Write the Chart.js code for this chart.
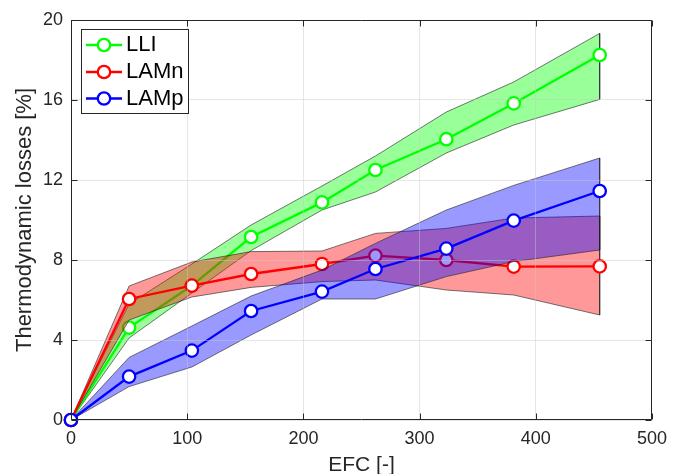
<!DOCTYPE html>
<html>
<head>
<meta charset="utf-8">
<script src="https://cdn.jsdelivr.net/npm/chart.js@4.4.1/dist/chart.umd.min.js"></script>
<style>
  html, body { margin: 0; padding: 0; background: #ffffff; }
  #wrap { width: 675px; height: 474px; }
</style>
</head>
<body>
<div id="wrap"><canvas id="c" width="675" height="474"></canvas></div>
<script>
// ---- data ----
const efc = [0, 50, 104, 155, 216, 262, 323, 381, 455];

const lli      = [0, 4.62, 6.72, 9.15, 10.88, 12.5, 14.04, 15.83, 18.25];
const lliUpper = [0, 5.8, 7.8, 9.75, 11.7, 13.2, 15.4, 16.9, 19.33];
const lliLower = [0, 4.1, 6.35, 8.47, 10.5, 11.4, 13.35, 14.75, 16.03];

const lamn      = [0, 6.05, 6.72, 7.3, 7.8, 8.22, 8.0, 7.67, 7.68];
const lamnUpper = [0, 6.7, 7.9, 8.42, 8.45, 9.33, 9.58, 10.1, 10.2];
const lamnLower = [0, 5.0, 6.15, 6.63, 6.92, 7.0, 6.5, 6.25, 5.25];

const lamp      = [0, 2.17, 3.47, 5.45, 6.42, 7.55, 8.57, 9.97, 11.45];
const lampUpper = [0, 3.13, 4.7, 6.2, 7.5, 8.83, 10.5, 11.73, 13.1];
const lampLower = [0, 1.67, 2.65, 4.25, 6.05, 6.05, 7.17, 7.92, 8.5];

const seriesNames = ['LLI', 'LAMn', 'LAMp'];
const xTicks = [0, 100, 200, 300, 400, 500];
const yTicks = [0, 4, 8, 12, 16, 20];

// ---- styling ----
const FONT = "'Liberation Sans', Arial, Helvetica, sans-serif";
const AXIS = '#262626';
const EDGE = 'rgba(30,30,30,0.75)';
const MR = 6.2;   // marker radius
const LW = 2.3;   // line width

function pts(xs, ys) { return xs.map((x, i) => ({ x: x, y: ys[i] })); }

function band(upper, lower, fillColor, order) {
  const n = efc.length - 1;
  const up = pts(efc, upper).concat([{ x: efc[n], y: lower[n] }]);
  return [
    { data: up, showLine: true, fill: '+1', backgroundColor: fillColor,
      borderColor: EDGE, borderWidth: 0.8, pointRadius: 0, order: order, isBand: true },
    { data: pts(efc, lower), showLine: true, fill: false,
      borderColor: EDGE, borderWidth: 0.8, pointRadius: 0, order: order - 1, isBand: true }
  ];
}

function series(label, ys, color, order) {
  return { label: label, data: pts(efc, ys), showLine: true, fill: false,
    borderColor: color, borderWidth: LW, pointRadius: MR, pointBorderWidth: LW,
    pointBackgroundColor: '#ffffff', pointBorderColor: color, order: order,
    clip: false, isSeries: true };
}

const datasets = []
  .concat(band(lliUpper, lliLower, 'rgba(0,255,0,0.4)', 9))
  .concat([series(seriesNames[0], lli, '#00ff00', 7)])
  .concat(band(lamnUpper, lamnLower, 'rgba(255,0,0,0.4)', 6))
  .concat([series(seriesNames[1], lamn, '#ff0000', 4)])
  .concat(band(lampUpper, lampLower, 'rgba(0,0,255,0.4)', 3))
  .concat([series(seriesNames[2], lamp, '#0000ff', 1)]);

const boxPlugin = {
  id: 'matlabBox',
  afterDraw(chart) {
    const ctx = chart.ctx;
    const a = chart.chartArea;
    const xs = chart.scales.x, ys = chart.scales.y;
    ctx.save();
    ctx.strokeStyle = AXIS;
    ctx.lineWidth = 1;
    const L = Math.round(a.left) + 0.5, R = Math.round(a.right) - 0.5;
    const T = Math.round(a.top) + 0.5, B = Math.round(a.bottom) - 0.5;
    ctx.beginPath();
    ctx.rect(L, T, R - L, B - T);
    ctx.stroke();
    const tl = 6;
    ctx.beginPath();
    xTicks.forEach(v => {
      const px = Math.round(xs.getPixelForValue(v)) + 0.5;
      ctx.moveTo(px, B); ctx.lineTo(px, B - tl);
      ctx.moveTo(px, T); ctx.lineTo(px, T + tl);
    });
    yTicks.forEach(v => {
      const py = Math.round(ys.getPixelForValue(v)) + 0.5;
      ctx.moveTo(L, py); ctx.lineTo(L + tl, py);
      ctx.moveTo(R, py); ctx.lineTo(R - tl, py);
    });
    ctx.stroke();

    // legend box (MATLAB style)
    const bx = 81.5, by = 29.5, bw = 107, bh = 84;
    ctx.fillStyle = '#ffffff';
    ctx.fillRect(bx, by, bw, bh);
    ctx.strokeStyle = AXIS;
    ctx.strokeRect(bx, by, bw, bh);
    const rowsY = [45, 72, 98.5];
    const items = chart.data.datasets.filter(d => d.isSeries);
    items.forEach((d, i) => {
      const y = rowsY[i];
      ctx.strokeStyle = d.borderColor;
      ctx.lineWidth = LW;
      ctx.beginPath();
      ctx.moveTo(86, y); ctx.lineTo(122, y);
      ctx.stroke();
      ctx.beginPath();
      ctx.arc(104, y, MR, 0, Math.PI * 2);
      ctx.fillStyle = '#ffffff';
      ctx.fill();
      ctx.stroke();
      ctx.fillStyle = '#000000';
      ctx.font = '22px ' + FONT;
      ctx.textAlign = 'left';
      ctx.textBaseline = 'middle';
      ctx.fillText(d.label, 126, y);
    });
    ctx.restore();
  }
};

new Chart(document.getElementById('c'), {
  type: 'scatter',
  data: { datasets: datasets },
  options: {
    responsive: false,
    devicePixelRatio: 1,
    animation: false,
    events: [],
    layout: { padding: { left: 0, right: 16, top: 20, bottom: 0 } },
    plugins: {
      legend: { display: false },
      tooltip: { enabled: false },
      filler: { propagate: false }
    },
    scales: {
      x: {
        type: 'linear', min: 0, max: 500,
        afterFit(scale) { scale.height = 54; },
        afterBuildTicks(scale) { scale.ticks = xTicks.map(v => ({ value: v })); },
        ticks: { font: { family: FONT, size: 18 }, color: AXIS, padding: 8, maxRotation: 0 },
        grid: { color: 'rgba(200,200,200,0.45)', drawTicks: false, z: 1 },
        border: { display: false },
        title: { display: true, text: 'EFC [-]', color: AXIS,
          font: { family: FONT, size: 21 }, padding: { top: 0, bottom: -4 } }
      },
      y: {
        type: 'linear', min: 0, max: 20,
        afterFit(scale) { scale.width = 71; },
        afterBuildTicks(scale) { scale.ticks = yTicks.map(v => ({ value: v })); },
        ticks: { font: { family: FONT, size: 18 }, color: AXIS, padding: 8 },
        grid: { color: 'rgba(200,200,200,0.45)', drawTicks: false, z: 1 },
        border: { display: false },
        title: { display: true, text: 'Thermodynamic losses [%]', color: AXIS,
          font: { family: FONT, size: 22 }, padding: { top: 12, bottom: 0 } }
      }
    }
  },
  plugins: [boxPlugin]
});
</script>
</body>
</html>
